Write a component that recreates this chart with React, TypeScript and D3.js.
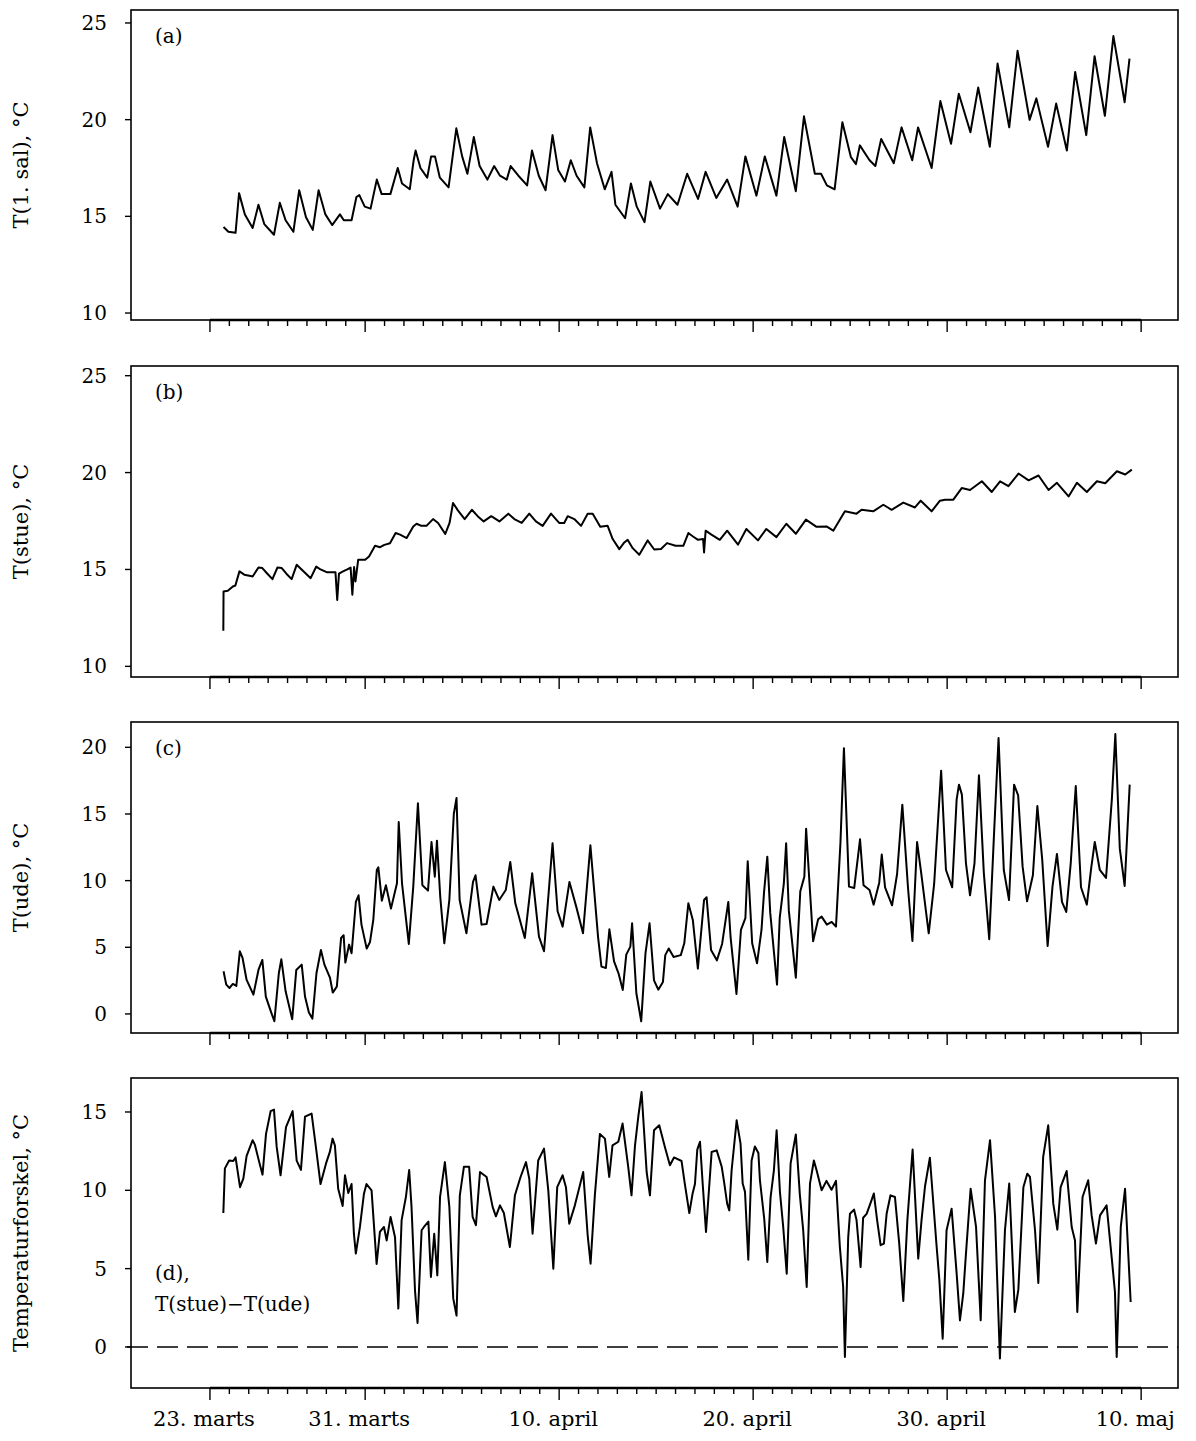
import * as d3 from 'd3';

// days after 23. marts 00:00, value in °C
const salData: [number, number][] = [
  [0.7, 14.45], [0.95, 14.2], [1.32, 14.15], [1.5, 16.2], [1.8, 15.1], [2.2, 14.4], [2.5, 15.6], [2.8, 14.6],
  [3.3, 14.05], [3.6, 15.7], [3.9, 14.8], [4.3, 14.2], [4.6, 16.35], [4.95, 14.95], [5.3, 14.3], [5.6, 16.35],
  [5.95, 15.1], [6.3, 14.55], [6.7, 15.1], [6.9, 14.8], [7.3, 14.8], [7.55, 16.0], [7.7, 16.1], [7.98, 15.5],
  [8.28, 15.4], [8.6, 16.9], [8.85, 16.15], [9.3, 16.15], [9.68, 17.5], [9.9, 16.7], [10.3, 16.4], [10.5, 17.9],
  [10.6, 18.4], [10.85, 17.5], [11.2, 17.0], [11.4, 18.1], [11.6, 18.1], [11.85, 17.0], [12.3, 16.5], [12.7, 19.55],
  [13.0, 18.1], [13.27, 17.2], [13.6, 19.1], [13.9, 17.6], [14.3, 16.9], [14.65, 17.6], [14.95, 17.1], [15.3, 16.9],
  [15.5, 17.6], [15.9, 17.1], [16.35, 16.6], [16.6, 18.4], [16.95, 17.1], [17.3, 16.35], [17.66, 19.2], [17.95, 17.4],
  [18.3, 16.8], [18.6, 17.9], [18.9, 17.1], [19.3, 16.5], [19.6, 19.6], [19.95, 17.75], [20.35, 16.4], [20.7, 17.3],
  [20.9, 15.6], [21.4, 14.9], [21.7, 16.7], [22.0, 15.5], [22.4, 14.7], [22.7, 16.8], [23.2, 15.4], [23.6, 16.15],
  [24.1, 15.6], [24.6, 17.2], [25.16, 15.9], [25.55, 17.3], [26.1, 15.95], [26.66, 16.9], [27.2, 15.5], [27.6, 18.1],
  [28.17, 16.07], [28.6, 18.1], [29.2, 16.07], [29.6, 19.1], [30.2, 16.3], [30.62, 20.17], [31.18, 17.2], [31.5, 17.2],
  [31.8, 16.6], [32.2, 16.4], [32.6, 19.87], [33.04, 18.06], [33.3, 17.7], [33.5, 18.67], [34.0, 17.9], [34.3, 17.6],
  [34.6, 19.0], [35.25, 17.75], [35.65, 19.6], [36.2, 17.9], [36.5, 19.6], [37.2, 17.5], [37.65, 20.96], [38.2, 18.75],
  [38.6, 21.34], [39.2, 19.35], [39.6, 21.66], [40.2, 18.6], [40.6, 22.9], [41.2, 19.6], [41.63, 23.56], [42.25, 19.99],
  [42.6, 21.1], [43.2, 18.6], [43.62, 20.83], [44.17, 18.4], [44.6, 22.47], [45.17, 19.2], [45.6, 23.28], [46.13, 20.2],
  [46.57, 24.32], [47.15, 20.9], [47.4, 23.16],
];

const stueData: [number, number][] = [
  [0.69, 11.84], [0.7, 13.86], [0.92, 13.9], [1.18, 14.12], [1.31, 14.17], [1.52, 14.9], [1.77, 14.73], [2.03, 14.68],
  [2.2, 14.64], [2.5, 15.1], [2.7, 15.07], [2.96, 14.78], [3.22, 14.5], [3.48, 15.1], [3.7, 15.07], [3.94, 14.78],
  [4.21, 14.5], [4.47, 15.24], [4.79, 14.93], [5.19, 14.55], [5.48, 15.15], [5.7, 15.0], [6.04, 14.85], [6.47, 14.85],
  [6.56, 13.43], [6.65, 14.78], [6.86, 14.9], [7.08, 15.0], [7.25, 15.1], [7.34, 13.7], [7.43, 15.13], [7.5, 14.38],
  [7.64, 15.5], [8.0, 15.5], [8.2, 15.67], [8.51, 16.22], [8.77, 16.15], [8.99, 16.27], [9.28, 16.35], [9.57, 16.88],
  [9.8, 16.8], [10.14, 16.62], [10.48, 17.22], [10.65, 17.36], [10.9, 17.25], [11.16, 17.25], [11.5, 17.6], [11.76, 17.4],
  [12.13, 16.83], [12.35, 17.4], [12.53, 18.43], [12.78, 18.05], [13.13, 17.6], [13.5, 18.08], [13.8, 17.75], [14.11, 17.48],
  [14.5, 17.75], [14.92, 17.48], [15.38, 17.88], [15.69, 17.6], [16.07, 17.4], [16.46, 17.88], [16.8, 17.48], [17.15, 17.25],
  [17.58, 17.88], [18.0, 17.4], [18.26, 17.4], [18.44, 17.75], [18.78, 17.6], [19.13, 17.25], [19.47, 17.88], [19.73, 17.88],
  [20.12, 17.2], [20.5, 17.25], [20.76, 16.57], [21.1, 16.05], [21.33, 16.36], [21.53, 16.53], [21.79, 16.1], [22.13, 15.76],
  [22.56, 16.5], [22.9, 16.03], [23.25, 16.06], [23.56, 16.36], [24.0, 16.22], [24.4, 16.22], [24.66, 16.88], [24.9, 16.7],
  [25.16, 16.53], [25.42, 16.57], [25.47, 15.88], [25.55, 17.0], [25.85, 16.8], [26.28, 16.53], [26.66, 17.0], [27.22, 16.28],
  [27.65, 17.09], [28.25, 16.5], [28.68, 17.09], [29.2, 16.67], [29.71, 17.36], [30.2, 16.84], [30.72, 17.57], [31.27, 17.2],
  [31.78, 17.22], [32.13, 17.0], [32.73, 18.0], [33.33, 17.88], [33.59, 18.08], [34.19, 18.0], [34.71, 18.34], [35.14, 18.08],
  [35.74, 18.45], [36.34, 18.2], [36.64, 18.55], [37.2, 18.0], [37.63, 18.55], [37.89, 18.6], [38.32, 18.6], [38.75, 19.2],
  [39.18, 19.1], [39.79, 19.55], [40.3, 19.0], [40.73, 19.55], [41.16, 19.3], [41.68, 19.95], [42.2, 19.6], [42.71, 19.85],
  [43.23, 19.1], [43.66, 19.47], [44.26, 18.77], [44.69, 19.47], [45.2, 19.0], [45.72, 19.55], [46.15, 19.45], [46.75, 20.07],
  [47.18, 19.9], [47.52, 20.15],
];

const udeData: [number, number][] = [
  [0.7, 3.2], [0.84, 2.2], [1.01, 1.95], [1.18, 2.25], [1.36, 2.1], [1.54, 4.7], [1.68, 4.2], [1.89, 2.55],
  [2.24, 1.45], [2.5, 3.3], [2.7, 4.05], [2.88, 1.3], [3.16, 0.1], [3.32, -0.55], [3.55, 3.05], [3.68, 4.1],
  [3.9, 1.7], [4.24, -0.4], [4.45, 3.3], [4.73, 3.7], [4.9, 1.3], [5.1, 0.1], [5.28, -0.35], [5.49, 3.05],
  [5.72, 4.8], [5.9, 3.7], [6.19, 2.7], [6.33, 1.6], [6.54, 2.05], [6.76, 5.7], [6.89, 5.9], [6.98, 3.85],
  [7.17, 5.2], [7.3, 4.55], [7.52, 8.4], [7.66, 8.9], [7.81, 6.7], [8.08, 4.9], [8.25, 5.4], [8.42, 7.05],
  [8.6, 10.8], [8.68, 11.0], [8.86, 8.5], [9.07, 9.65], [9.33, 7.9], [9.64, 9.8], [9.73, 14.4], [9.9, 9.8],
  [10.25, 5.25], [10.48, 9.55], [10.72, 15.8], [10.95, 9.65], [11.24, 9.25], [11.42, 12.9], [11.59, 10.3], [11.7, 13.0],
  [11.87, 8.8], [12.08, 5.3], [12.34, 8.55], [12.57, 15.0], [12.71, 16.2], [12.87, 8.55], [13.22, 6.05], [13.56, 9.9],
  [13.69, 10.4], [14.0, 6.7], [14.26, 6.75], [14.61, 9.55], [14.91, 8.55], [15.25, 9.3], [15.48, 11.4], [15.74, 8.3],
  [16.23, 5.7], [16.61, 10.55], [16.96, 5.8], [17.22, 4.7], [17.66, 12.8], [17.92, 7.7], [18.18, 6.55], [18.53, 9.9],
  [18.88, 8.05], [19.23, 6.05], [19.61, 12.65], [20.01, 5.7], [20.18, 3.55], [20.41, 3.45], [20.59, 6.35], [20.83, 3.95],
  [21.06, 3.05], [21.28, 1.8], [21.46, 4.45], [21.67, 5.05], [21.76, 6.8], [21.98, 1.55], [22.23, -0.55], [22.45, 4.55],
  [22.66, 6.8], [22.89, 2.52], [23.11, 1.82], [23.35, 2.4], [23.47, 4.41], [23.65, 4.91], [23.9, 4.27], [24.27, 4.41],
  [24.45, 5.3], [24.66, 8.3], [24.89, 7.05], [25.15, 3.4], [25.47, 8.55], [25.6, 8.75], [25.83, 4.8], [26.13, 4.02],
  [26.4, 5.25], [26.72, 8.4], [26.84, 5.7], [27.14, 1.5], [27.37, 6.3], [27.6, 7.18], [27.72, 11.45], [27.95, 5.3],
  [28.2, 3.8], [28.43, 6.3], [28.56, 9.1], [28.73, 11.8], [28.88, 7.6], [29.23, 2.2], [29.37, 7.2], [29.58, 9.75],
  [29.7, 12.8], [29.84, 7.75], [30.2, 2.72], [30.43, 9.2], [30.64, 10.3], [30.73, 13.9], [31.09, 5.45], [31.35, 7.1],
  [31.53, 7.3], [31.8, 6.7], [32.05, 6.9], [32.27, 6.55], [32.5, 12.84], [32.68, 19.94], [32.94, 9.55], [33.21, 9.45],
  [33.51, 13.1], [33.69, 9.65], [34.0, 9.3], [34.21, 8.2], [34.5, 9.85], [34.63, 11.96], [34.8, 9.5], [35.16, 8.15],
  [35.42, 10.5], [35.69, 15.7], [35.98, 9.5], [36.21, 5.47], [36.45, 12.9], [36.66, 10.6], [37.05, 6.05], [37.33, 9.75],
  [37.51, 14.0], [37.69, 18.25], [37.94, 10.8], [38.26, 9.5], [38.49, 16.1], [38.61, 17.2], [38.76, 16.45], [38.97, 11.3],
  [39.18, 8.9], [39.41, 11.3], [39.64, 17.9], [39.89, 10.6], [40.17, 5.6], [40.42, 13.6], [40.65, 20.7], [40.92, 10.8],
  [41.19, 8.55], [41.45, 17.2], [41.66, 16.4], [41.89, 11.05], [42.12, 8.45], [42.42, 10.4], [42.65, 15.6], [42.9, 11.6],
  [43.18, 5.1], [43.43, 9.55], [43.66, 12.0], [43.92, 8.4], [44.14, 7.65], [44.37, 11.3], [44.63, 17.1], [44.9, 9.5],
  [45.2, 8.2], [45.43, 11.0], [45.61, 12.9], [45.87, 10.8], [46.19, 10.2], [46.49, 16.1], [46.67, 21.0], [46.9, 12.4],
  [47.15, 9.6], [47.41, 17.2],
];

const diffData: [number, number][] = [
  [0.69, 8.55], [0.77, 11.4], [0.99, 11.9], [1.2, 11.87], [1.32, 12.1], [1.55, 10.2], [1.72, 10.75], [1.89, 12.2],
  [2.2, 13.2], [2.32, 12.9], [2.54, 11.8], [2.71, 11.0], [2.89, 13.6], [3.13, 15.06], [3.3, 15.15], [3.44, 12.77],
  [3.64, 10.96], [3.92, 14.04], [4.26, 15.06], [4.47, 11.9], [4.69, 11.3], [4.9, 14.7], [5.24, 14.9], [5.46, 12.77],
  [5.7, 10.4], [5.98, 11.7], [6.18, 12.45], [6.32, 13.3], [6.44, 12.87], [6.61, 10.1], [6.84, 9.0], [6.96, 10.96],
  [7.13, 9.83], [7.3, 10.4], [7.42, 7.23], [7.52, 5.96], [7.73, 7.66], [7.94, 9.8], [8.07, 10.4], [8.33, 10.0],
  [8.59, 5.3], [8.76, 7.34], [8.97, 7.66], [9.11, 6.8], [9.31, 8.3], [9.54, 7.0], [9.71, 2.45], [9.88, 8.1],
  [10.1, 9.57], [10.27, 11.3], [10.39, 8.94], [10.57, 3.6], [10.7, 1.53], [10.91, 7.45], [11.03, 7.66], [11.26, 8.0],
  [11.39, 4.47], [11.56, 7.23], [11.72, 4.57], [11.86, 9.57], [12.11, 11.8], [12.34, 8.94], [12.54, 3.1], [12.71, 2.0],
  [12.88, 9.68], [13.09, 11.5], [13.36, 11.5], [13.54, 8.3], [13.71, 7.77], [13.92, 11.17], [14.26, 10.85], [14.57, 8.94],
  [14.74, 8.34], [14.95, 9.04], [15.15, 8.55], [15.46, 6.38], [15.72, 9.68], [16.01, 10.85], [16.29, 11.8], [16.46, 10.74],
  [16.63, 7.23], [16.92, 11.9], [17.22, 12.66], [17.44, 10.0], [17.7, 5.0], [17.9, 10.2], [18.18, 10.96], [18.35, 10.2],
  [18.52, 7.87], [18.81, 9.04], [19.24, 11.17], [19.47, 7.13], [19.62, 5.32], [19.84, 9.68], [20.1, 13.6], [20.36, 13.3],
  [20.58, 10.85], [20.75, 12.87], [21.05, 13.1], [21.27, 14.26], [21.56, 11.5], [21.73, 9.68], [21.91, 12.87], [22.08, 14.7],
  [22.25, 16.28], [22.51, 11.17], [22.68, 9.68], [22.89, 13.83], [23.16, 14.15], [23.45, 12.77], [23.71, 11.6], [23.92, 12.1],
  [24.31, 11.87], [24.48, 10.4], [24.71, 8.55], [24.88, 9.8], [25.0, 10.4], [25.12, 12.6], [25.26, 13.1], [25.4, 10.4],
  [25.57, 7.34], [25.86, 12.45], [26.12, 12.55], [26.38, 11.5], [26.49, 10.64], [26.66, 9.15], [26.77, 8.72], [26.89, 11.28],
  [27.15, 14.47], [27.35, 12.98], [27.46, 10.43], [27.58, 9.9], [27.75, 5.57], [27.92, 11.9], [28.09, 12.8], [28.27, 12.38],
  [28.35, 10.64], [28.57, 8.2], [28.73, 5.43], [28.9, 9.57], [29.07, 11.28], [29.21, 13.83], [29.38, 9.9], [29.55, 7.66],
  [29.73, 4.68], [29.93, 11.7], [30.2, 13.57], [30.41, 9.68], [30.58, 7.45], [30.76, 3.83], [30.93, 10.43], [31.13, 11.9],
  [31.27, 11.28], [31.53, 10.0], [31.78, 10.6], [32.04, 10.04], [32.27, 10.6], [32.47, 6.38], [32.64, 3.83], [32.73, -0.64],
  [32.9, 7.0], [32.99, 8.5], [33.2, 8.77], [33.33, 8.1], [33.54, 5.1], [33.67, 8.25], [33.85, 8.5], [34.1, 9.36],
  [34.22, 9.8], [34.39, 8.1], [34.57, 6.5], [34.74, 6.6], [34.88, 8.5], [35.08, 9.68], [35.31, 9.57], [35.53, 6.6],
  [35.74, 2.94], [35.95, 8.1], [36.22, 12.6], [36.51, 5.64], [36.68, 8.1], [36.86, 10.26], [37.11, 12.08], [37.46, 6.38],
  [37.6, 4.26], [37.77, 0.53], [37.97, 7.45], [38.23, 8.83], [38.49, 4.68], [38.66, 1.7], [38.83, 3.4], [38.97, 5.96],
  [39.21, 10.1], [39.49, 7.66], [39.73, 1.7], [39.95, 10.64], [40.21, 13.2], [40.47, 8.3], [40.72, -0.74], [40.98, 7.45],
  [41.2, 10.43], [41.49, 2.23], [41.67, 3.66], [41.93, 10.2], [42.13, 11.06], [42.27, 10.85], [42.53, 7.45], [42.7, 4.09],
  [42.95, 12.13], [43.21, 14.15], [43.47, 9.15], [43.68, 7.49], [43.85, 10.2], [44.16, 11.23], [44.42, 7.66], [44.59, 6.8],
  [44.71, 2.23], [44.98, 9.57], [45.27, 10.64], [45.45, 8.4], [45.67, 6.6], [45.88, 8.4], [46.22, 9.04], [46.48, 5.74],
  [46.65, 3.51], [46.74, -0.64], [46.95, 7.66], [47.17, 10.1], [47.46, 2.87],
];

const dateTicks = [0, 8, 18, 28, 38, 48];
const dateLabels = ['23. marts', '31. marts', '10. april', '20. april', '30. april', '10. maj'];

const FONT = '"DejaVu Serif", "Liberation Serif", serif';
const left = 131;
const right = 1178;

interface PanelProps {
  top: number;
  bottom: number;
  domain: [number, number];
  yTicks: number[];
  data: [number, number][];
  ylabel: string;
  tag?: string;
  showDates?: boolean;
  zeroLine?: boolean;
}

const x = d3.scaleLinear().domain([-4.07, 49.9]).range([left, right]);
const minorTicks = d3.range(0, 49);

function Panel({ top, bottom, domain, yTicks, data, ylabel, tag, showDates, zeroLine }: PanelProps) {
  const y = d3.scaleLinear().domain(domain).range([bottom, top]);
  const line = d3.line<[number, number]>().x((d) => x(d[0])).y((d) => y(d[1]));
  const midY = (top + bottom) / 2;
  return (
    <g>
      <rect x={left} y={top} width={right - left} height={bottom - top} fill="none" stroke="#000" strokeWidth={1.6} />
      <line x1={x(0)} x2={x(48)} y1={bottom} y2={bottom} stroke="#000" strokeWidth={2.4} />
      {zeroLine && (
        <line x1={left - 4} x2={right} y1={y(0)} y2={y(0)} stroke="#000" strokeWidth={1.6} strokeDasharray="21 9" />
      )}
      <path d={line(data) ?? ''} fill="none" stroke="#000" strokeWidth={2} strokeLinejoin="round" />
      {yTicks.map((t) => (
        <g key={t}>
          <line x1={left - 6} x2={left} y1={y(t)} y2={y(t)} stroke="#000" strokeWidth={1.4} />
          <text x={left - 24} y={y(t) + 7} textAnchor="end" fontSize={20} fontFamily={FONT}>
            {t}
          </text>
        </g>
      ))}
      {minorTicks.map((d) => (
        <line key={d} x1={x(d)} x2={x(d)} y1={bottom} y2={bottom + (dateTicks.includes(d) ? 12 : 6)} stroke="#000" strokeWidth={1.4} />
      ))}
      {showDates &&
        dateTicks.map((d, i) => (
          <text key={d} x={x(d) - 6} y={bottom + 38} textAnchor="middle" fontSize={21} fontFamily={FONT}>
            {dateLabels[i]}
          </text>
        ))}
      <text transform={`translate(28,${midY}) rotate(-90)`} textAnchor="middle" fontSize={21} fontFamily={FONT}>
        {ylabel}
      </text>
      {tag && (
        <text x={155} y={top + 33} fontSize={20} fontFamily={FONT}>
          {tag}
        </text>
      )}
    </g>
  );
}

export default function App() {
  const dD = d3.scaleLinear().domain([-2.62, 17.17]).range([1388, 1078]);
  return (
    <svg width={1196} height={1441} style={{ display: 'block', margin: -8 }}>
      <rect width={1196} height={1441} fill="#fff" />
      <Panel top={10} bottom={320} domain={[9.64, 25.67]} yTicks={[10, 15, 20, 25]} data={salData} ylabel="T(1. sal), °C" tag="(a)" />
      <Panel top={366} bottom={677} domain={[9.45, 25.5]} yTicks={[10, 15, 20, 25]} data={stueData} ylabel="T(stue), °C" tag="(b)" />
      <Panel top={722} bottom={1033} domain={[-1.43, 21.9]} yTicks={[0, 5, 10, 15, 20]} data={udeData} ylabel="T(ude), °C" tag="(c)" />
      <Panel top={1078} bottom={1388} domain={[-2.62, 17.17]} yTicks={[0, 5, 10, 15]} data={diffData} ylabel="Temperaturforskel, °C" showDates zeroLine />
      <text x={155} y={dD(4.3)} fontSize={20} fontFamily={FONT}>(d),</text>
      <text x={155} y={dD(2.3)} fontSize={20} fontFamily={FONT}>T(stue)−T(ude)</text>
    </svg>
  );
}
